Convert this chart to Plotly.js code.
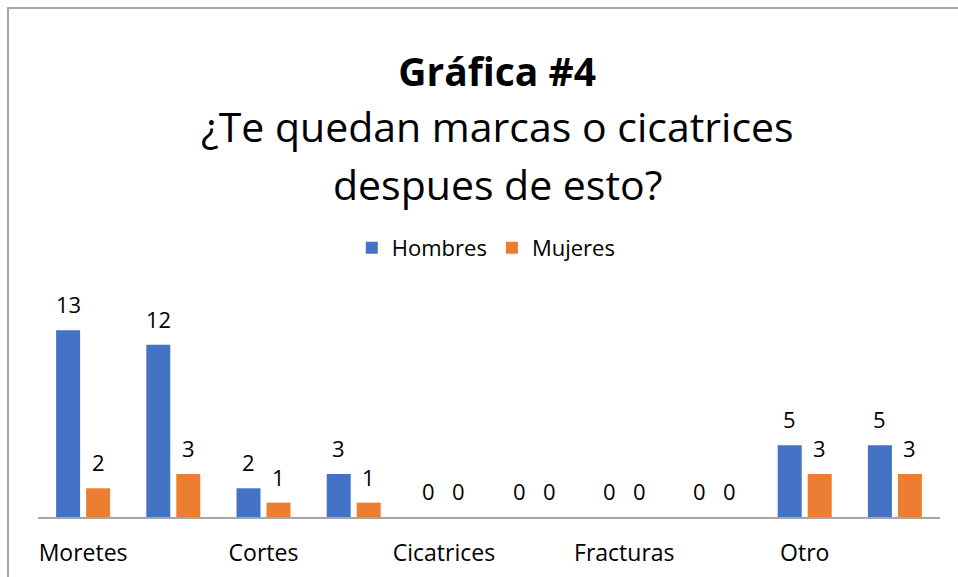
<!DOCTYPE html>
<html>
<head>
<meta charset="utf-8">
<script src="https://cdn.plot.ly/plotly-3.0.1.min.js"></script>
<style>
  html, body { margin: 0; padding: 0; background: #fff; overflow: hidden; }
  #wrap { position: relative; width: 958px; height: 577px; overflow: hidden; }
  #chart { width: 958px; height: 577px; }
  #frame { position: absolute; left: 7px; top: 7px; width: 960px; height: 580px;
           border-left: 2px solid #A6A6A6; border-top: 2px solid #A6A6A6; pointer-events: none; }
</style>
</head>
<body>
<div id="wrap"><div id="chart"></div><div id="frame"></div></div>
<script>
const tickLabels = ["Moretes", "", "Cortes", "", "Cicatrices", "", "Fracturas", "", "Otro", ""];
const hombres = [13, 12, 2, 3, 0, 0, 0, 0, 5, 5];
const mujeres = [2, 3, 1, 1, 0, 0, 0, 0, 3, 3];
const seriesNames = ["Hombres", "Mujeres"];
const titleText = "Gráfica #4";
const subtitleLines = ["¿Te quedan marcas o cicatrices", "despues de esto?"];

const FONT = "Open Sans, Noto Sans, sans-serif";
const xs = tickLabels.map((_, i) => i);

const traces = [
  { type: "bar", name: seriesNames[0], x: xs, y: hombres, marker: { color: "#4472C4" }, hoverinfo: "none" },
  { type: "bar", name: seriesNames[1], x: xs, y: mujeres, marker: { color: "#ED7D31" }, hoverinfo: "none" }
];

const annotations = [];
xs.forEach((x, i) => {
  annotations.push({ x: x, y: hombres[i], xref: "x", yref: "y", text: String(hombres[i]), showarrow: false,
    xshift: -15, yshift: 26, yanchor: "middle", font: { family: FONT, size: 22, color: "#000" } });
  annotations.push({ x: x, y: mujeres[i], xref: "x", yref: "y", text: String(mujeres[i]), showarrow: false,
    xshift: 15, yshift: 26, yanchor: "middle", font: { family: FONT, size: 22, color: "#000" } });
});
annotations.push({ x: 0.509, y: 1.945, xref: "paper", yref: "paper", text: subtitleLines[0], showarrow: false,
  xanchor: "center", yanchor: "middle", font: { family: FONT, size: 41, color: "#000" } });
annotations.push({ x: 0.509, y: 1.657, xref: "paper", yref: "paper", text: subtitleLines[1], showarrow: false,
  xanchor: "center", yanchor: "middle", font: { family: FONT, size: 41, color: "#000" } });

const tickvals = xs.filter(i => tickLabels[i] !== "");
const ticktext = tickvals.map(i => tickLabels[i]);

const layout = {
  width: 958, height: 577,
  margin: { l: 38, r: 18, t: 316, b: 60 },
  paper_bgcolor: "#fff", plot_bgcolor: "#fff",
  font: { family: FONT, color: "#000" },
  title: { text: "<b>" + titleText + "</b>", x: 0.519, xref: "container", xanchor: "center",
           y: 1 - 72 / 577, yref: "container", yanchor: "middle",
           font: { family: FONT, size: 39, color: "#000" } },
  barmode: "group", bargap: 0.335, bargroupgap: 0.2,
  showlegend: true,
  legend: { orientation: "h", x: 0.497, xanchor: "center", y: 1.338, yanchor: "middle",
            font: { family: FONT, size: 22, color: "#000" }, itemwidth: 30 },
  xaxis: { range: [-0.5, 9.5], tickvals: tickvals, ticktext: ticktext, showgrid: false, zeroline: false,
           showline: true, linecolor: "#A6A6A6", linewidth: 2, ticks: "outside", ticklen: 14,
           tickcolor: "rgba(0,0,0,0)",
           tickfont: { family: FONT, size: 23, color: "#000" }, fixedrange: true },
  yaxis: { range: [0, 14], visible: false, showgrid: false, zeroline: false, fixedrange: true },
  annotations: annotations
};

Plotly.newPlot("chart", traces, layout, { displayModeBar: false, staticPlot: true });
</script>
</body>
</html>
